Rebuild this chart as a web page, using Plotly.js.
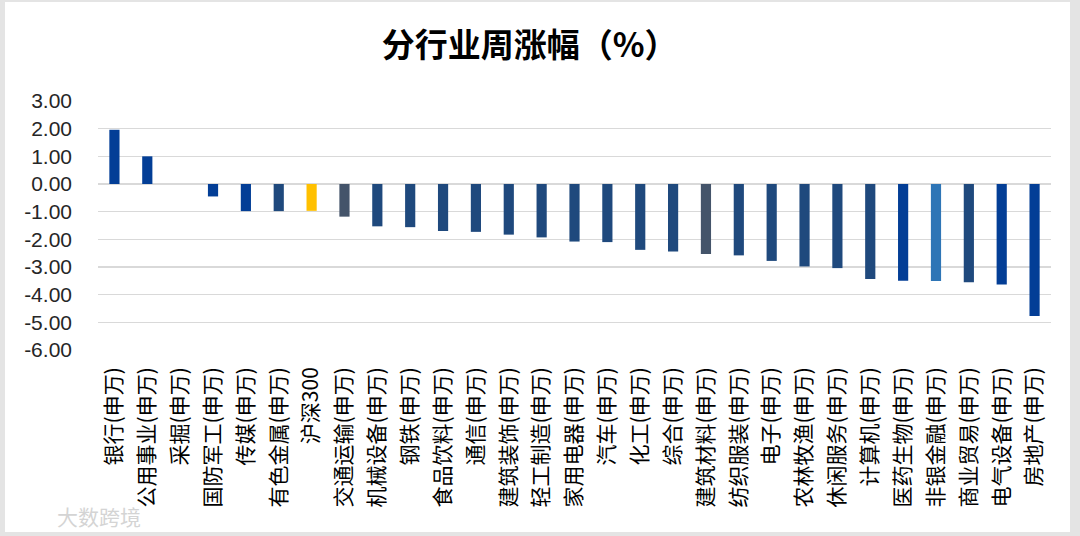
<!DOCTYPE html>
<html>
<head>
<meta charset="utf-8">
<script src="https://cdn.plot.ly/plotly-3.0.1.min.js"></script>
<style>
html,body{margin:0;padding:0;background:#e4e4e4;width:1080px;height:536px;overflow:hidden;}
#chart{position:absolute;left:5px;top:2px;width:1065px;height:530px;background:#fff;}
</style>
</head>
<body>
<div id="chart"></div>
<script>
const categories = ["银行(申万)","公用事业(申万)","采掘(申万)","国防军工(申万)","传媒(申万)","有色金属(申万)","沪深300","交通运输(申万)","机械设备(申万)","钢铁(申万)","食品饮料(申万)","通信(申万)","建筑装饰(申万)","轻工制造(申万)","家用电器(申万)","汽车(申万)","化工(申万)","综合(申万)","建筑材料(申万)","纺织服装(申万)","电子(申万)","农林牧渔(申万)","休闲服务(申万)","计算机(申万)","医药生物(申万)","非银金融(申万)","商业贸易(申万)","电气设备(申万)","房地产(申万)"];
const weeklyChange = [1.96, 1.00, 0.00, -0.45, -0.98, -0.98, -0.97, -1.18, -1.53, -1.56, -1.70, -1.73, -1.83, -1.93, -2.08, -2.10, -2.38, -2.44, -2.53, -2.58, -2.78, -2.98, -3.04, -3.43, -3.50, -3.51, -3.55, -3.63, -4.77];
const yTickValues = [3, 2, 1, 0, -1, -2, -3, -4, -5, -6];
const yTickLabels = ["3.00","2.00","1.00","0.00","-1.00","-2.00","-3.00","-4.00","-5.00","-6.00"];

const B = "#033e96", D = "#1f497d", S = "#44546a", L = "#2e75b6", Y = "#ffc000";
const barColors = [B,B,B,B,B,D,Y,S,D,D,D,D,D,D,D,D,D,D,S,D,D,D,D,D,B,L,D,B,B];

const trace = {
  type: "bar",
  x: categories,
  y: weeklyChange,
  marker: {color: barColors, line: {width: 0}},
  width: 0.31,
  hoverinfo: "x+y"
};

const layout = {
  width: 1065, height: 530,
  margin: {l: 93, r: 19, t: 99, b: 182},
  paper_bgcolor: "#ffffff",
  plot_bgcolor: "#ffffff",
  showlegend: false,
  title: {
    text: "<b>分行业周涨幅（%）</b>",
    x: 0.453, xref: "paper", xanchor: "center",
    y: 0.918, yref: "container", yanchor: "middle",
    font: {family: "Noto Sans CJK SC, sans-serif", size: 33, color: "#000000"}
  },
  font: {family: "Noto Sans CJK SC, sans-serif", color: "#000000"},
  xaxis: {
    type: "category",
    tickangle: -90,
    tickfont: {family: "Noto Sans CJK SC, sans-serif", size: 21, color: "#000000"},
    showgrid: false,
    showline: false,
    zeroline: false,
    ticks: "",
    ticklabelstandoff: 12,
    automargin: false
  },
  yaxis: {
    range: [-6, 3],
    tickmode: "array",
    tickvals: yTickValues,
    ticktext: yTickLabels,
    tickfont: {family: "Liberation Sans, Arial, sans-serif", size: 21, color: "#262626"},
    showgrid: true,
    gridcolor: "#d9d9d9",
    gridwidth: 1.5,
    zeroline: false,
    showline: false,
    ticks: "",
    ticklabelstandoff: 25,
    automargin: false
  },
  annotations: [{
    text: "大数跨境",
    xref: "paper", yref: "paper",
    x: -0.045, y: -0.668,
    xanchor: "left", yanchor: "middle",
    showarrow: false,
    font: {family: "Noto Sans CJK SC, sans-serif", size: 21, color: "#d4d4d4"}
  }]
};

Plotly.newPlot("chart", [trace], layout, {displayModeBar: false, staticPlot: true});
</script>
</body>
</html>
